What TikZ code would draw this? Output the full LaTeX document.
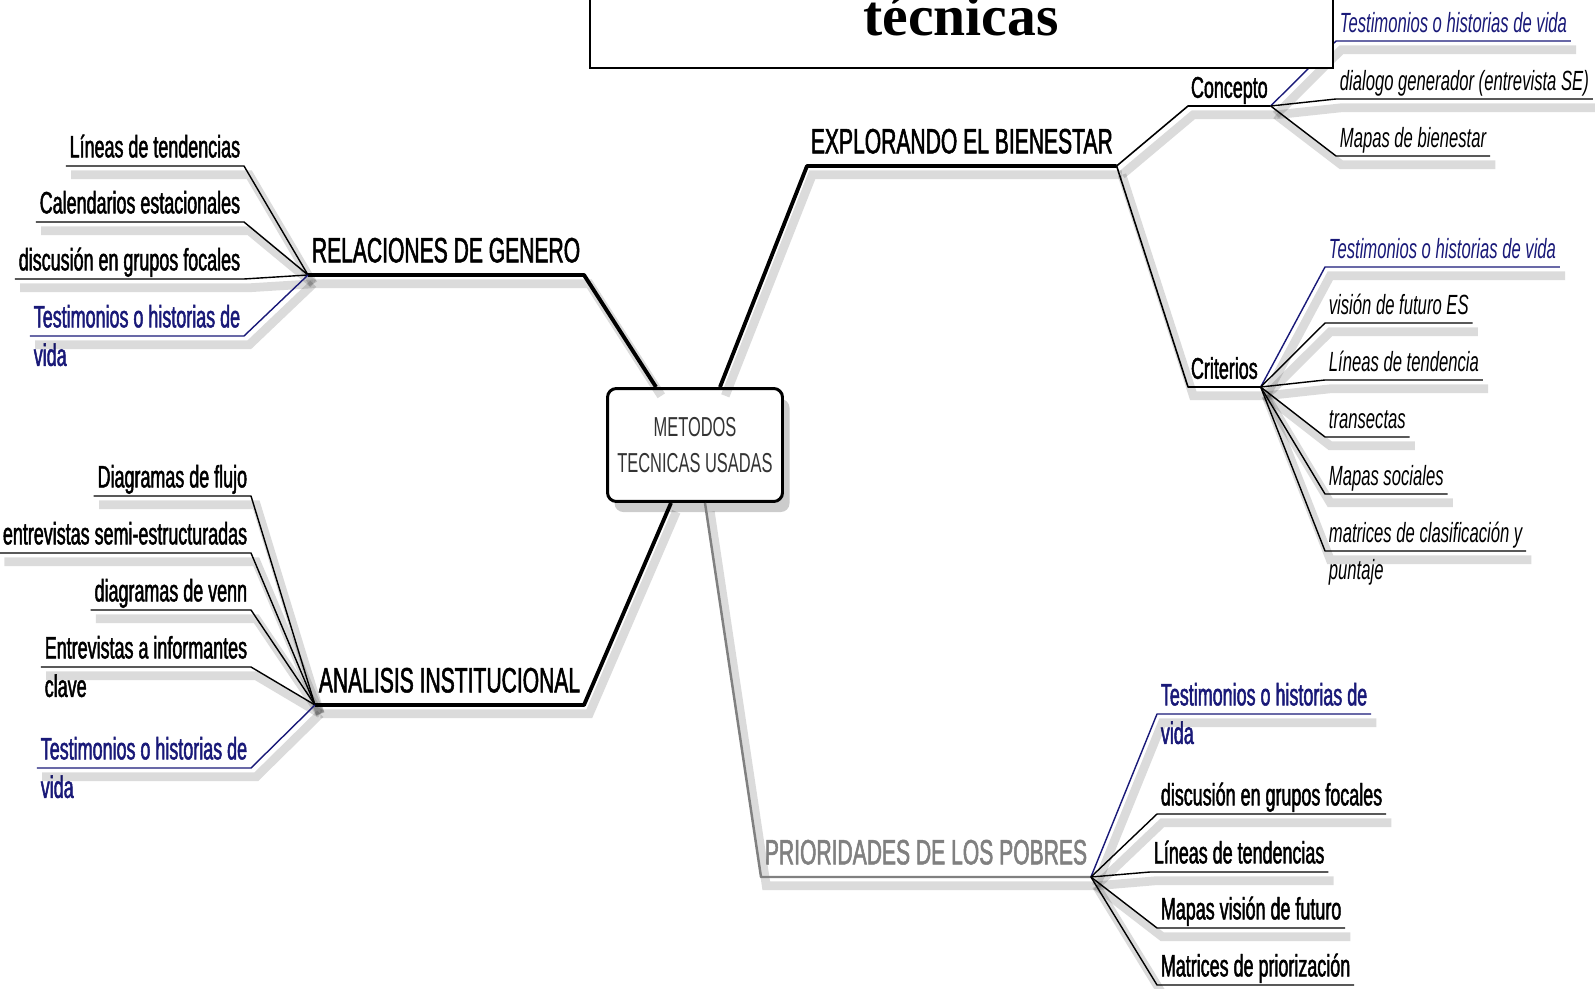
\documentclass[tikz,border=0pt]{standalone}
\usepackage{fontspec}
\setmainfont{Liberation Serif}
\newfontfamily\narrowsans[FakeStretch=0.6]{Liberation Sans}
\newfontfamily\narrowbold[FakeStretch=0.6,FakeBold=1.5]{Liberation Sans}
\newfontfamily\leafbold[FakeStretch=0.58,FakeBold=1.5]{Liberation Sans}
\usetikzlibrary{positioning,shadows}
\definecolor{lifeblue}{RGB}{25,25,120}
\definecolor{poorgray}{RGB}{128,128,128}

\tikzset{
  shade/.style={preaction={draw=black, opacity=0.14, line width=5pt,
      transform canvas={shift={(3pt,-5pt)}}}},
  trunk/.style={shade, line width=2.2pt, line join=round},
  stem/.style={shade, line width=0.9pt, line join=round},
  twig/.style={shade, line width=0.8pt, line join=round},
  mainlab/.style={font=\narrowbold\fontsize{20pt}{24pt}\selectfont,
      inner xsep=2pt, inner ysep=3pt, text depth=4pt},
  sublab/.style={font=\narrowbold\fontsize{17pt}{20pt}\selectfont,
      inner xsep=1.5pt, inner ysep=0.3pt, text depth=4.2pt},
  leaf/.style={font=\leafbold\fontsize{17.6pt}{20pt}\selectfont,
      inner xsep=2pt, inner ysep=0.3pt, text depth=4.4pt},
  rleaf/.style={font=\narrowsans\itshape\fontsize{15.8pt}{19pt}\selectfont,
      inner xsep=2pt, inner ysep=0.3pt, text depth=4.4pt},
  hubbox/.style={draw, line width=1.7pt, rounded corners=5pt, fill=white,
      minimum width=3.5cm, minimum height=2.26cm, align=center,
      text=black!80, font=\narrowsans\fontsize{15.6pt}{20.4pt}\selectfont,
      drop shadow={fill=black, opacity=0.2, shadow xshift=4pt, shadow yshift=-6pt}}
}

\begin{document}
\begin{tikzpicture}[x=0.02cm, y=-0.02cm]
    \clip (0,0) rectangle (1595,989);

    % centre
    \node[hubbox] (box) at (695,445) {METODOS\\TECNICAS USADAS};

    % main branch labels
    \node[mainlab, anchor=south west] (genlab) at (308,275) {RELACIONES DE GENERO};
    \node[mainlab, anchor=south west] (bienlab) at (807,166) {EXPLORANDO EL BIENESTAR};
    \node[mainlab, anchor=south west] (instlab) at (315,705) {ANALISIS INSTITUCIONAL};
    \node[mainlab, anchor=south west, text=poorgray] (pobrlab) at (761,877) {PRIORIDADES DE LOS POBRES};

    \draw[trunk] ([xshift=-0.78cm]box.north) -- (genlab.south east) -- (genlab.south west);
    \draw[trunk] ([xshift=0.5cm]box.north) -- (bienlab.south west) -- (bienlab.south east);
    \draw[trunk] ([xshift=-0.48cm]box.south) -- (instlab.south east) -- (instlab.south west);
    \draw[trunk, poorgray, line width=1.4pt] ([xshift=0.2cm]box.south) -- (pobrlab.south west) -- (pobrlab.south east);

    % explorando el bienestar
    \node[sublab, anchor=south west] (conclab) at (1188,106) {Concepto};
    \node[sublab, anchor=south west] (critlab) at (1188,387) {Criterios};
    \draw[stem] (bienlab.south east) -- (conclab.south west) -- (conclab.south east);
    \draw[stem] (bienlab.south east) -- (critlab.south west) -- (critlab.south east);

    \node[rleaf, anchor=south west, text=lifeblue] (c1) at (1336,41) {Testimonios o historias de vida};
    \node[rleaf, anchor=south west] (c2) at (1336,99) {dialogo generador (entrevista SE)};
    \node[rleaf, anchor=south west] (c3) at (1336,156) {Mapas de bienestar};
    \draw[twig, lifeblue] (conclab.south east) -- (c1.south west) -- (c1.south east);
    \draw[twig] (conclab.south east) -- (c2.south west) -- (c2.south east);
    \draw[twig] (conclab.south east) -- (c3.south west) -- (c3.south east);

    \node[rleaf, anchor=south west, text=lifeblue] (k1) at (1325,267) {Testimonios o historias de vida};
    \node[rleaf, anchor=south west] (k2) at (1325,323) {visión de futuro ES};
    \node[rleaf, anchor=south west] (k3) at (1325,380) {Líneas de tendencia};
    \node[rleaf, anchor=south west] (k4) at (1325,437) {transectas};
    \node[rleaf, anchor=south west] (k5) at (1325,494) {Mapas sociales};
    \node[rleaf, anchor=south west] (k6) at (1325,551) {matrices de clasificación y};
    \node[rleaf, anchor=base west] (k6b) at ([yshift=-16.5pt]k6.south west) {puntaje};
    \draw[twig, lifeblue] (critlab.south east) -- (k1.south west) -- (k1.south east);
    \foreach \k in {k2,k3,k4,k5,k6}
        \draw[twig] (critlab.south east) -- (\k.south west) -- (\k.south east);

    % relaciones de genero
    \node[leaf, anchor=south east] (g1) at (244,166) {Líneas de tendencias};
    \node[leaf, anchor=south east] (g2) at (244,222) {Calendarios estacionales};
    \node[leaf, anchor=south east] (g3) at (244,279) {discusión en grupos focales};
    \node[leaf, anchor=south east, text=lifeblue] (g4) at (244,336) {Testimonios o historias de};
    \node[leaf, anchor=base west, text=lifeblue] (g4b) at ([yshift=-17pt]g4.south west) {vida};
    \foreach \g in {g1,g2,g3}
        \draw[twig] (genlab.south west) -- (\g.south east) -- (\g.south west);
    \draw[twig, lifeblue] (genlab.south west) -- (g4.south east) -- (g4.south west);

    % analisis institucional
    \node[leaf, anchor=south east] (i1) at (251,496) {Diagramas de flujo};
    \node[leaf, anchor=south east] (i2) at (251,553) {entrevistas semi-estructuradas};
    \node[leaf, anchor=south east] (i3) at (251,610) {diagramas de venn};
    \node[leaf, anchor=south east] (i4) at (251,667) {Entrevistas a informantes};
    \node[leaf, anchor=base west] (i4b) at ([yshift=-17pt]i4.south west) {clave};
    \node[leaf, anchor=south east, text=lifeblue] (i5) at (251,768) {Testimonios o historias de};
    \node[leaf, anchor=base west, text=lifeblue] (i5b) at ([yshift=-17pt]i5.south west) {vida};
    \foreach \i in {i1,i2,i3,i4}
        \draw[twig] (instlab.south west) -- (\i.south east) -- (\i.south west);
    \draw[twig, lifeblue] (instlab.south west) -- (i5.south east) -- (i5.south west);

    % prioridades de los pobres
    \node[leaf, anchor=south west, text=lifeblue] (p1) at (1157,714) {Testimonios o historias de};
    \node[leaf, anchor=base west, text=lifeblue] (p1b) at ([yshift=-17pt]p1.south west) {vida};
    \node[leaf, anchor=south west] (p2) at (1157,814) {discusión en grupos focales};
    \node[leaf, anchor=south west] (p3) at (1150,872) {Líneas de tendencias};
    \node[leaf, anchor=south west] (p4) at (1157,928) {Mapas visión de futuro};
    \node[leaf, anchor=south west] (p5) at (1157,985) {Matrices de priorización};
    \draw[twig, lifeblue] (pobrlab.south east) -- (p1.south west) -- (p1.south east);
    \foreach \p in {p2,p3,p4,p5}
        \draw[twig] (pobrlab.south east) -- (\p.south west) -- (\p.south east);

    % title box, cut by the top edge
    \draw[fill=white, line width=0.8pt] (590,-30) rectangle (1333,68);
    \node[font=\bfseries\fontsize{32.8pt}{36pt}\selectfont, anchor=base] (title) at (961,36) {técnicas};
\end{tikzpicture}
\end{document}
